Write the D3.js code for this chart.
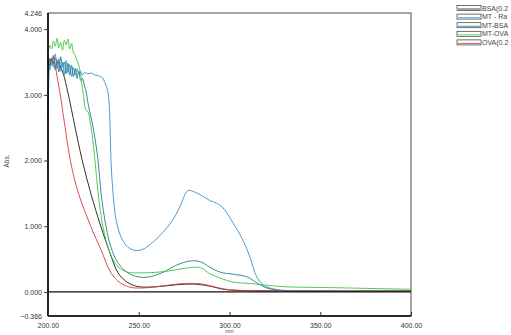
<!DOCTYPE html>
<html>
<head>
<meta charset="utf-8">
<script src="https://cdn.jsdelivr.net/npm/d3@7"></script>
<style>
body{margin:0;background:#fff;}
svg text{font-family:"Liberation Sans",Arial,sans-serif;}
</style>
</head>
<body>
<svg id="chart" width="511" height="335"></svg>
<script>
// spectra, [nm, abs]
var bsa = [[200,3.52],[201,3.45],[202,3.56],[203,3.48],[204,3.55],[205.5,3.50],[208.3,3.33],[211,3.03],[214.9,2.51],[218.7,2.02],[223.7,1.49],[229.2,0.99],[234.2,0.59],[238.6,0.29],[244.1,0.14],[250,0.08],[260,0.08],[271,0.11],[280,0.12],[289,0.09],[295,0.05],[300,0.03],[311,0.02],[400,0.015]];
var mtRa = [[200,3.50],[201,3.38],[202,3.56],[203,3.42],[204,3.62],[205,3.40],[206,3.55],[207,3.36],[208,3.50],[209,3.30],[210,3.52],[211,3.34],[212,3.46],[213,3.28],[214,3.42],[215,3.30],[216,3.40],[217,3.32],[218,3.36],[219,3.30],[220,3.34],[222,3.32],[224,3.33],[226,3.30],[228,3.29],[230,3.26],[231.4,3.18],[233.1,3.03],[234.2,2.51],[234.7,2.0],[235.8,1.51],[237.5,1.10],[240.2,0.84],[244.1,0.68],[248.5,0.63],[252.3,0.65],[257.9,0.76],[263.4,0.91],[268.9,1.10],[272.7,1.30],[277,1.54],[280,1.53],[283.8,1.48],[289.3,1.39],[293,1.35],[296.4,1.28],[302,1.05],[307.4,0.79],[311.3,0.53],[315,0.23],[318.5,0.11],[322.3,0.06],[327.8,0.03],[340,0.02],[400,0.015]];
var mtBsa = [[200,2.62],[200.5,3.30],[201,3.55],[202,3.45],[203,3.60],[204,3.38],[205,3.52],[206,3.35],[207,3.58],[208,3.42],[209,3.50],[210,3.32],[211,3.48],[212,3.30],[213,3.45],[214,3.28],[215,3.40],[216,3.25],[217,3.36],[218,3.22],[219,3.25],[220,3.15],[221,3.05],[222,2.88],[224.8,2.51],[227.6,2.0],[229.2,1.51],[232,0.99],[234.7,0.68],[238.6,0.44],[244.1,0.29],[249.6,0.23],[256,0.23],[263.4,0.30],[271,0.41],[278,0.47],[284,0.46],[289,0.38],[295,0.30],[302,0.27],[309.6,0.23],[315,0.14],[320.6,0.06],[326,0.03],[335,0.015],[400,0.01]];
var mtOva = [[200,3.62],[201,3.75],[202,3.70],[203,3.82],[204,3.74],[205,3.86],[206,3.72],[207,3.80],[208,3.68],[209,3.83],[210,3.76],[211,3.85],[212,3.70],[213,3.78],[214,3.64],[215,3.60],[216,3.52],[217,3.45],[218,3.30],[219.3,3.03],[220.9,2.77],[222,2.74],[223.7,2.51],[225.9,2.0],[227.6,1.51],[230.3,0.99],[234.2,0.59],[238.6,0.38],[244.1,0.30],[249.6,0.29],[260,0.30],[269,0.33],[278,0.37],[284,0.37],[289,0.28],[295,0.21],[302,0.15],[311,0.13],[318,0.11],[330,0.08],[357,0.065],[400,0.04]];
var ova = [[200,3.48],[201,3.55],[202,3.50],[203,3.58],[204,3.45],[205,3.28],[206.6,3.03],[209.4,2.51],[212.3,2.0],[216.8,1.50],[223.7,0.99],[229.2,0.64],[234.7,0.29],[239.7,0.14],[245.7,0.07],[251,0.06],[260,0.08],[271,0.12],[280,0.13],[285,0.12],[290,0.09],[295,0.055],[300,0.035],[311,0.02],[400,0.015]];

var names = ["BSA(0.2", "MT - Ra", "MT-BSA", "MT-OVA", "OVA(0.2"];
var colors = ["#1a1a1a", "#3d8fcf", "#1f7f8e", "#3cc43c", "#d23c3c"];
var series = [bsa, mtRa, mtBsa, mtOva, ova];
var xTicks = [200, 250, 300, 350, 400];
var yTicks = [4.246, 4, 3, 2, 1, 0, -0.366];

var svg = d3.select("#chart");
var pLeft = 48, pRight = 411, pTop = 13, pBottom = 316;

var x = d3.scaleLinear().domain([200, 400]).range([pLeft, pRight]);
var y = d3.scaleLinear().domain([-0.366, 4.246]).range([pBottom, pTop]);

// frame
svg.append("rect").attr("x", pLeft).attr("y", pTop)
	.attr("width", pRight - pLeft).attr("height", pBottom - pTop)
	.attr("fill", "none").attr("stroke", "#222").attr("stroke-width", 0.8);

var line = d3.line()
	.x(function(d){ return x(d[0]); })
	.y(function(d){ return y(d[1]); })
	.curve(d3.curveCatmullRom.alpha(0.5));

var g = svg.append("g");
series.forEach(function(s, i){
	g.append("path")
		.attr("d", line(s))
		.attr("fill", "none")
		.attr("stroke", colors[i])
		.attr("stroke-width", 0.9);
});

// zero line
svg.append("line").attr("x1", pLeft).attr("x2", pRight)
	.attr("y1", y(0)).attr("y2", y(0))
	.attr("stroke", "#111").attr("stroke-width", 1.2);

// axes
svg.append("line").attr("x1", pLeft).attr("x2", pLeft).attr("y1", pTop).attr("y2", pBottom)
	.attr("stroke", "#000").attr("stroke-width", 1.6);
svg.append("line").attr("x1", pLeft).attr("x2", pRight).attr("y1", pBottom).attr("y2", pBottom)
	.attr("stroke", "#000").attr("stroke-width", 1.6);

var yAxis = d3.axisLeft(y).tickValues(yTicks).tickSize(4).tickFormat(d3.format(".3f"));
var ya = svg.append("g").attr("transform", "translate(" + pLeft + ",0)").call(yAxis);
ya.select(".domain").remove();
ya.selectAll("line").attr("stroke", "#333")
	.attr("x2", function(d){ return (d === 4.246 || d === -0.366) ? 0 : -4; });
ya.selectAll("text").attr("font-size", 7).attr("fill", "#333").attr("x", -6);

var xAxis = d3.axisBottom(x).tickValues(xTicks).tickSize(-4).tickPadding(7).tickFormat(d3.format(".2f"));
var xa = svg.append("g").attr("transform", "translate(0," + pBottom + ")").call(xAxis);
xa.select(".domain").remove();
xa.selectAll("line").attr("stroke", "#333");
xa.selectAll("text").attr("font-size", 7).attr("fill", "#333");

svg.append("text").attr("x", x(300)).attr("y", 333).attr("text-anchor", "middle")
	.attr("font-size", 6).attr("fill", "#444").text("nm");
svg.append("text").attr("transform", "translate(9,161) rotate(-90)").attr("text-anchor", "middle")
	.attr("font-size", 6.5).attr("fill", "#444").text("Abs.");

// legend
var lg = svg.append("g");
names.forEach(function(n, i){
	var ly = 8 + i * 8.6;
	lg.append("rect").attr("x", 457).attr("y", ly - 2.5).attr("width", 24).attr("height", 5)
		.attr("fill", "#fff").attr("stroke", "#333").attr("stroke-width", 0.7);
	lg.append("line").attr("x1", 458).attr("x2", 480).attr("y1", ly + 1).attr("y2", ly + 1)
		.attr("stroke", colors[i]).attr("stroke-width", 0.8);
	lg.append("text").attr("x", 482).attr("y", ly + 2.5)
		.attr("font-size", 7).attr("fill", "#444").text(n);
});
</script>
</body>
</html>
